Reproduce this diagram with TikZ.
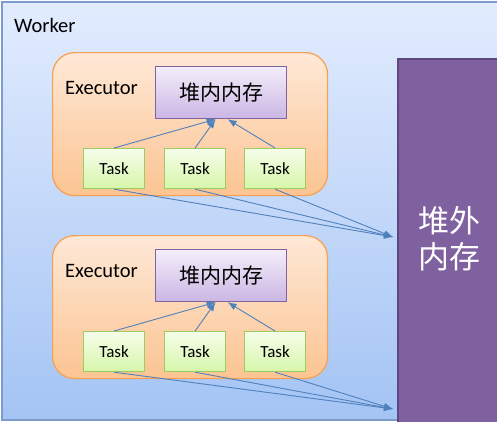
\documentclass[tikz,border=0pt]{standalone}
\usepackage{fontspec}
\setmainfont{Carlito}
\newfontfamily\cjk{Noto Sans CJK SC}
\usetikzlibrary{arrows.meta,positioning}
\definecolor{WBorder}{RGB}{125,155,205}
\definecolor{WTop}{RGB}{226,236,254}
\definecolor{WBot}{RGB}{164,196,244}
\definecolor{EBorder}{RGB}{246,160,80}
\definecolor{ETop}{RGB}{254,232,214}
\definecolor{EBot}{RGB}{252,196,146}
\definecolor{HBorder}{RGB}{128,100,162}
\definecolor{HTop}{RGB}{244,238,250}
\definecolor{HBot}{RGB}{202,182,228}
\definecolor{TBorder}{RGB}{155,205,95}
\definecolor{TTop}{RGB}{246,253,234}
\definecolor{TBot}{RGB}{214,246,170}
\definecolor{OFill}{RGB}{128,97,160}
\definecolor{OBorder}{RGB}{95,70,128}
\definecolor{ALine}{RGB}{79,129,189}

\begin{document}
\begin{tikzpicture}[
    x=1pt, y=-1pt,
    worker/.style={
      draw=WBorder,
      line width=1.5pt,
      top color=WTop,
      bottom color=WBot,
      anchor=north west,
      minimum width=540pt,
      minimum height=418pt
    },
    executor/.style={
      draw=EBorder,
      line width=1.2pt,
      rounded corners=22pt,
      top color=ETop,
      bottom color=EBot,
      anchor=north west,
      minimum width=275pt,
      minimum height=143pt
    },
    heap/.style={
      draw=HBorder,
      line width=1.2pt,
      top color=HTop,
      bottom color=HBot,
      anchor=north west,
      minimum width=131pt,
      minimum height=52pt,
      font=\cjk\fontsize{21}{24}\selectfont
    },
    task/.style={
      draw=TBorder,
      line width=1.2pt,
      top color=TTop,
      bottom color=TBot,
      anchor=north west,
      minimum width=61pt,
      minimum height=40pt,
      font=\fontsize{17}{20}\selectfont
    },
    label/.style={
      anchor=west,
      inner sep=0pt,
      font=\fontsize{20.5}{24}\selectfont
    },
    arrow/.style={-{Latex[length=9pt,width=7pt]}, draw=ALine, line width=0.9pt}
  ]
    \useasboundingbox (0,0) rectangle (497,421);
    \clip (0,0) rectangle (497,421);

    \node[worker] (worker) at (1,1) {};
    \node[label] (wlabel) at (14,25) {Worker};

    % first executor
    \node[executor] (execA) at (52,52) {};
    \node[label] (elabelA) at (65,88) {Executor};
    \node[heap] (heapA) at (155,66) {堆内内存};
    \node[task] (taskA1) at (83,148) {Task};
    \node[task] (taskA2) at (164,148) {Task};
    \node[task] (taskA3) at (244,148) {Task};

    % second executor
    \node[executor] (execB) at (52,235) {};
    \node[label] (elabelB) at (65,271) {Executor};
    \node[heap] (heapB) at (155,249) {堆内内存};
    \node[task] (taskB1) at (83,331) {Task};
    \node[task] (taskB2) at (164,331) {Task};
    \node[task] (taskB3) at (244,331) {Task};

    % off-heap memory
    \node[draw=OBorder, line width=2pt, fill=OFill, anchor=north west,
      minimum width=130pt, minimum height=400pt] (offheap) at (397,58) {};
    \node[text=white, align=center, font=\cjk\fontsize{31}{36}\selectfont]
      (offtext) at (449,239) {堆外\\内存};

    \coordinate (tgtA) at (393,237);
    \coordinate (tgtB) at (393,409);

    \draw[arrow] (taskA1.north) -- ([xshift=-5.5pt]heapA.south);
    \draw[arrow] (taskA2.north) -- ([xshift=-5.5pt]heapA.south);
    \draw[arrow] (taskA3.north) -- ([xshift=6.5pt]heapA.south);
    \draw[arrow] (taskA1.south) -- (tgtA);
    \draw[arrow] (taskA2.south) -- (tgtA);
    \draw[arrow] (taskA3.south) -- (tgtA);

    \draw[arrow] (taskB1.north) -- ([xshift=-5.5pt]heapB.south);
    \draw[arrow] (taskB2.north) -- ([xshift=-5.5pt]heapB.south);
    \draw[arrow] (taskB3.north) -- ([xshift=6.5pt]heapB.south);
    \draw[arrow] (taskB1.south) -- (tgtB);
    \draw[arrow] (taskB2.south) -- (tgtB);
    \draw[arrow] (taskB3.south) -- (tgtB);
  \end{tikzpicture}
\end{document}
